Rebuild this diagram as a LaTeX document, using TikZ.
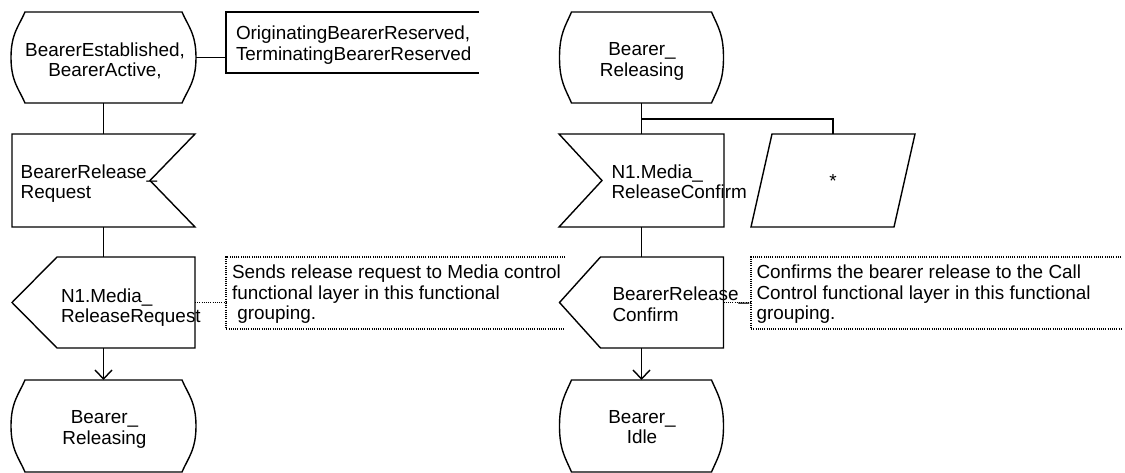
\documentclass[tikz,border=0pt]{standalone}
\usepackage{fontspec}
\setmainfont{Liberation Sans}
\usetikzlibrary{arrows.meta}
\tikzset{
  frame/.style={rectangle, draw=none, inner sep=0pt, outer sep=0pt},
  sdl/.style={line width=1.4pt, line join=miter},
  dotline/.style={line width=1.1pt, dash pattern=on 1pt off 1.2pt},
  lbl/.style={inner sep=0pt, outer sep=0pt, font=\fontsize{18.9}{20.5}\selectfont},
  flow/.style={sdl, -{Straight Barb[length=9pt,width=17pt]}},
}
\newcommand\drawstate[2]{%
 \draw[sdl] ([xshift=#2pt]#1.north west) -- ([xshift=-#2pt]#1.north east)
   .. controls ([xshift=-#2pt+6pt,yshift=-14pt]#1.north east) and ([yshift=24pt]#1.east) .. (#1.east)
   .. controls ([yshift=-24pt]#1.east) and ([xshift=-#2pt+6pt,yshift=14pt]#1.south east) .. ([xshift=-#2pt]#1.south east)
   -- ([xshift=#2pt]#1.south west)
   .. controls ([xshift=#2pt-6pt,yshift=14pt]#1.south west) and ([yshift=-24pt]#1.west) .. (#1.west)
   .. controls ([yshift=24pt]#1.west) and ([xshift=#2pt-6pt,yshift=-14pt]#1.north west) .. ([xshift=#2pt]#1.north west) -- cycle;}
\begin{document}
\begin{tikzpicture}[x=1pt, y=-1pt]
\useasboundingbox (0,0) rectangle (1125,473);

% ---------- left column ----------
\node[frame, minimum width=185pt, minimum height=91pt] (s1) at (103.5,57.5) {};
\node[lbl, align=center] (s1t) at (105,61) {BearerEstablished,\\BearerActive,};
\node[frame, minimum width=253pt, minimum height=61pt] (ext) at (352.5,42.5) {};
\node[lbl, align=left, anchor=west] (extt) at (236,45) {OriginatingBearerReserved,\\TerminatingBearerReserved};
\node[frame, minimum width=183pt, minimum height=93pt] (in1) at (103.5,180.5) {};
\node[lbl, align=left, anchor=west] (in1t) at (20.7,183.4) {BearerRelease\_\\Request};
\node[frame, minimum width=183pt, minimum height=91pt] (out1) at (103.5,302.5) {};
\node[lbl, align=left, anchor=west] (out1t) at (61,307.5) {N1.Media\_\\ReleaseRequest};
\node[frame, minimum width=185pt, minimum height=92pt] (s3) at (103.5,426) {};
\node[lbl, align=center] (s3t) at (104.5,429.3) {Bearer\_\\Releasing};
\node[frame, minimum width=339pt, minimum height=72pt] (cm1) at (395.5,293) {};
\node[lbl, align=left, anchor=west] (cm1t) at (232,294.5) {Sends release request to Media control\\functional layer in this functional\\\ grouping.};

% ---------- right column ----------
\node[frame, minimum width=164pt, minimum height=91pt] (s2) at (641.5,57.5) {};
\node[lbl, align=center] (s2t) at (642,61.5) {Bearer\_\\Releasing};
\node[frame, minimum width=165pt, minimum height=93pt] (in2) at (641.5,180.5) {};
\node[lbl, align=left, anchor=west] (in2t) at (611.5,181.6) {N1.Media\_\\ReleaseConfirm};
\node[frame, minimum width=164pt, minimum height=93pt] (para) at (833,180.5) {};
\node[lbl] (star) at (833,180.5) {*};
\node[frame, minimum width=164pt, minimum height=91pt] (out2) at (641.5,302.5) {};
\node[lbl, align=left, anchor=west] (out2t) at (612.5,304.3) {BearerRelease\_\\Confirm};
\node[frame, minimum width=164pt, minimum height=92pt] (s4) at (641.5,426) {};
\node[lbl, align=center] (s4t) at (642,427.3) {Bearer\_\\Idle};
\node[frame, minimum width=370pt, minimum height=72pt] (cm2) at (936,293) {};
\node[lbl, align=left, anchor=west] (cm2t) at (756.5,294.5) {Confirms the bearer release to the Call\\Control functional layer in this functional\\grouping.};
\coordinate (br) at (641.5,119);

% ---------- symbols ----------
\drawstate{s1}{14}
\drawstate{s3}{14}
\drawstate{s2}{12}
\drawstate{s4}{12}
\draw[sdl] (ext.north east) -- (ext.north west) -- (ext.south west) -- (ext.south east);
\draw[sdl] (in1.north west) -- (in1.north east) -- ([xshift=-45pt]in1.east) -- (in1.south east) -- (in1.south west) -- cycle;
\draw[sdl] ([xshift=45pt]out1.north west) -- (out1.north east) -- (out1.south east) -- ([xshift=45pt]out1.south west) -- (out1.west) -- cycle;
\draw[sdl] (in2.north west) -- (in2.north east) -- (in2.south east) -- (in2.south west) -- ([xshift=43pt]in2.west) -- cycle;
\draw[sdl] ([xshift=21pt]para.north west) -- (para.north east) -- ([xshift=-21pt]para.south east) -- (para.south west) -- cycle;
\draw[sdl] ([xshift=41pt]out2.north west) -- (out2.north east) -- (out2.south east) -- ([xshift=41pt]out2.south west) -- (out2.west) -- cycle;
\draw[dotline] (cm1.north east) -- (cm1.north west) -- (cm1.south west) -- (cm1.south east);
\draw[dotline] (cm2.north east) -- (cm2.north west) -- (cm2.south west) -- (cm2.south east);

% ---------- connectors ----------
\draw[sdl] (s1.east) -- (s1.east -| ext.west);
\draw[sdl] (s1.south) -- (in1.north);
\draw[sdl] (in1.south) -- (out1.north);
\draw[flow] (out1.south) -- (s3.north);
\draw[dotline] (out1.east) -- (out1.east -| cm1.west);
\draw[sdl] (s2.south) -- (in2.north);
\draw[sdl] (br) -| (para.north);
\draw[sdl] (in2.south) -- (out2.north);
\draw[flow] (out2.south) -- (s4.north);
\draw[dotline] (out2.east) -- (out2.east -| cm2.west);
\end{tikzpicture}
\end{document}
